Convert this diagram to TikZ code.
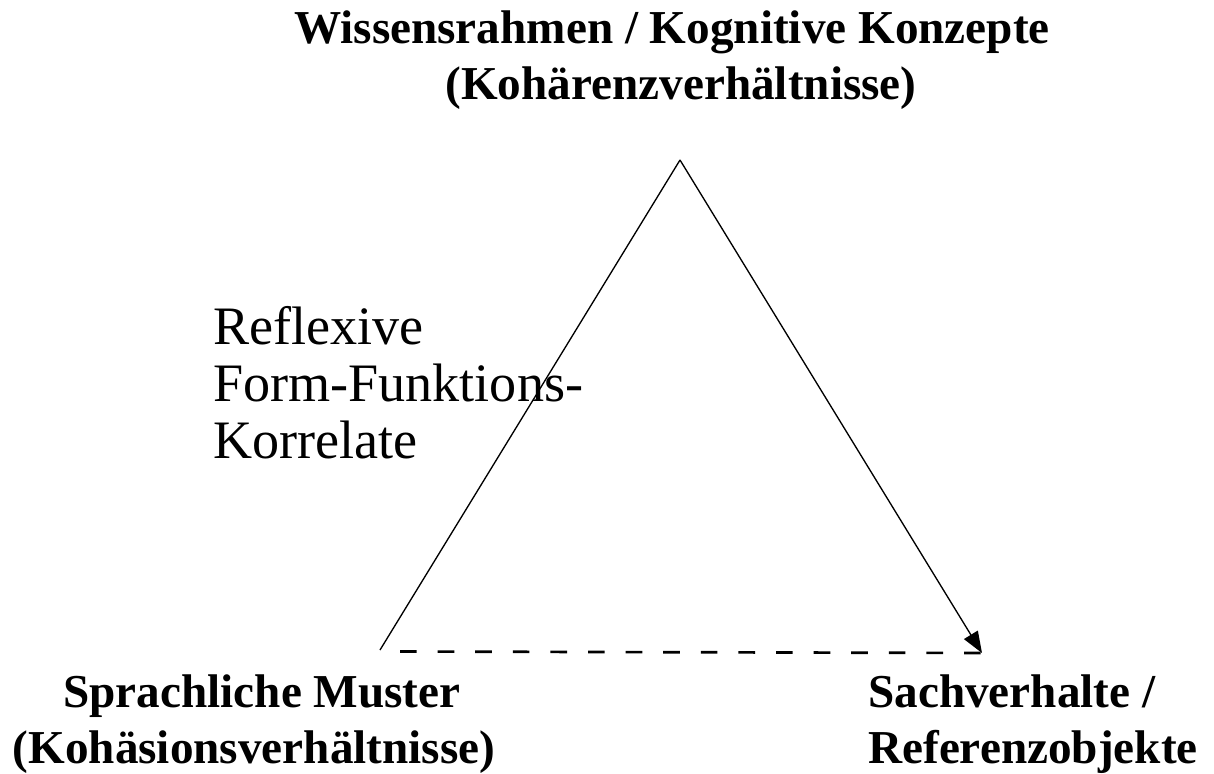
\documentclass[tikz,border=0pt]{standalone}
\usepackage{fontspec}
\setmainfont{Liberation Serif}
\usetikzlibrary{arrows.meta}
\begin{document}
\begin{tikzpicture}[x=0.75pt,y=-0.75pt,
  lbl/.style={font=\fontsize{35.4pt}{41pt}\selectfont\bfseries, inner sep=0pt},
  rlbl/.style={font=\fontsize{40.6pt}{41.5pt}\selectfont, inner sep=0pt}]
\useasboundingbox (0,0) rectangle (1214,774);
\coordinate (top) at (680,160);
\coordinate (bl) at (380,650);
\coordinate (br) at (982,653);
\coordinate (dl) at (400,651.5);
\draw[line width=1pt] (bl) -- (top);
\draw[line width=1pt, -{Triangle[length=16pt,width=12pt]}] (top) -- (br);
\draw[line width=2pt, dash pattern=on 12.5pt off 15.7pt] (dl) -- (br);
\node[lbl, anchor=base] (t1) at (672,44) {Wissensrahmen / Kognitive Konzepte};
\node[lbl, anchor=base] (t2) at (681,99) {(Kohärenzverhältnisse)};
\node[lbl, anchor=base] (l1) at (262,707) {Sprachliche Muster};
\node[lbl, anchor=base] (l2) at (254,763) {(Kohäsionsverhältnisse)};
\node[lbl, anchor=base west] (r1) at (868,707) {Sachverhalte /};
\node[lbl, anchor=base west] (r2) at (868,763) {Referenzobjekte};
\node[rlbl, anchor=base west] (f1) at (213,344) {Reflexive};
\node[rlbl, anchor=base west] (f2) at (213,401) {Form-Funktions-};
\node[rlbl, anchor=base west] (f3) at (213,458) {Korrelate};
\end{tikzpicture}
\end{document}
